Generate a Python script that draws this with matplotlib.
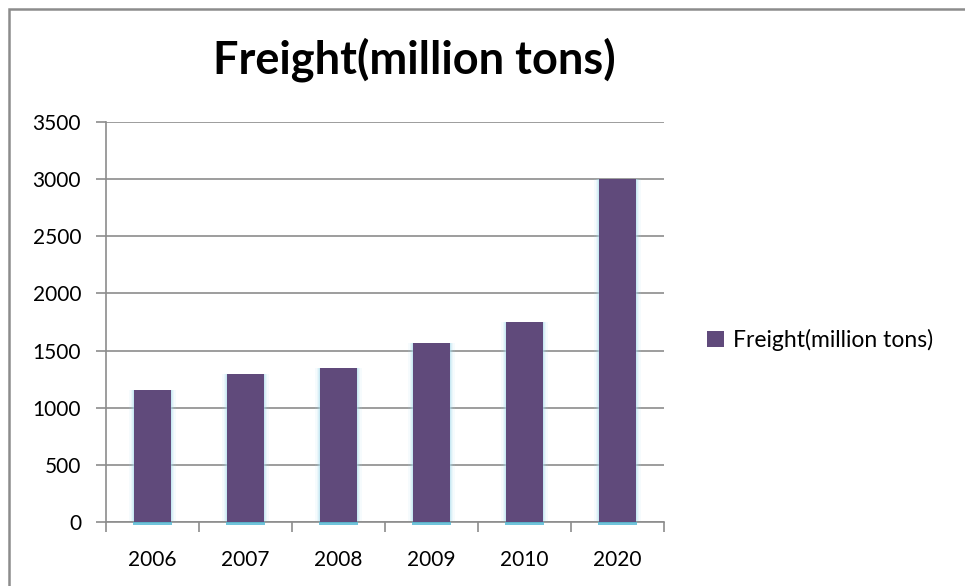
import matplotlib.pyplot as plt
from matplotlib.patches import Rectangle

# 数据
years = ['2006', '2007', '2008', '2009', '2010', '2020']
freight = [1157, 1298, 1348, 1568, 1748, 3000]
series_name = 'Freight(million tons)'

bar_color = '#604A7B'
grid_color = '#8C8C8C'

plt.rcParams['font.family'] = ['Lato', 'DejaVu Sans']

fig = plt.figure(figsize=(9.65, 5.86), dpi=100)
W, H = 965, 586
ax = fig.add_axes([106 / W, 1 - 522 / H, (664 - 106) / W, (522 - 122) / H])

x = list(range(len(years)))

# 柱子两侧的浅蓝色光晕
for w, a in [(0.50, 0.10), (0.47, 0.15), (0.445, 0.22), (0.42, 0.35)]:
    ax.bar(x, freight, width=w, color='#A8DEEE', alpha=a, zorder=2, linewidth=0)
ax.bar(x, freight, width=0.40, color=bar_color, zorder=3, linewidth=0,
       label=series_name)
# 底部的青色描边
ax.bar(x, [25] * len(x), bottom=-25, width=0.41, color='#4DB6D3',
       alpha=0.8, zorder=4, linewidth=0, clip_on=False)

ax.set_xlim(-0.5, len(years) - 0.5)
ax.set_ylim(0, 3500)
ax.set_yticks(range(0, 3501, 500))
ax.set_xticks(x)
ax.set_xticklabels(years)
ax.set_xticks([i - 0.5 for i in range(len(years) + 1)], minor=True)

ax.yaxis.grid(True, color=grid_color, linewidth=1.2)
ax.set_axisbelow(True)
for s in ['top', 'right']:
    ax.spines[s].set_visible(False)
for s in ['left', 'bottom']:
    ax.spines[s].set_color(grid_color)
    ax.spines[s].set_linewidth(1.2)

ax.tick_params(axis='x', which='major', length=0, pad=20, labelsize=15)
ax.tick_params(axis='x', which='minor', length=7, width=1.2, color=grid_color,
               direction='out')
ax.tick_params(axis='y', length=7, width=1.2, color=grid_color, pad=11,
               labelsize=15)

fig.text(414 / W, 1 - 60 / H, series_name, ha='center', va='center',
         fontsize=32.5, fontweight='bold')

ax.legend(loc='center left', bbox_to_anchor=(686 / W, 1 - 340 / H),
          bbox_transform=fig.transFigure, frameon=False, fontsize=16.5,
          handlelength=0.75, handleheight=0.75, handletextpad=0.4)

# 外框
fig.patches.append(Rectangle((9 / W, -0.1), 1.2, 1 - 9 / H + 0.1,
                             transform=fig.transFigure, fill=False,
                             edgecolor='#8C8C8C', linewidth=1.8))

fig.savefig('out.png', dpi=100)
